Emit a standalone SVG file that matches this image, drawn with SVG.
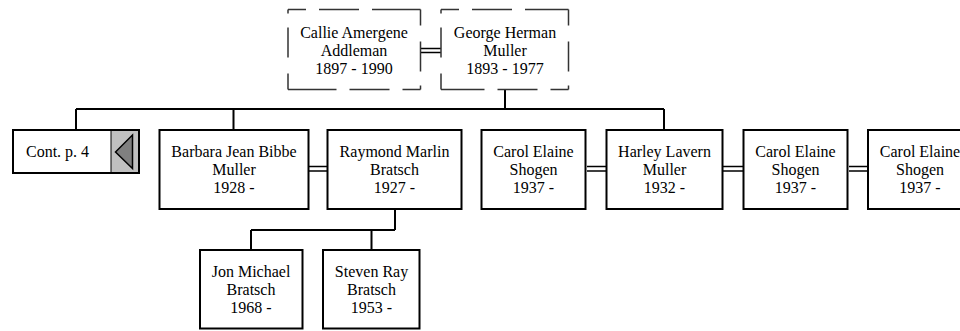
<svg xmlns="http://www.w3.org/2000/svg" width="960" height="331" viewBox="0 0 960 331">
<style>
text{font-family:"Liberation Serif","Times New Roman",serif;font-size:16px;fill:#000;text-anchor:middle}
.box{fill:#fff;stroke:#000;stroke-width:2}
.dh{fill:none;stroke:#333;stroke-width:1.5;stroke-dasharray:18 13 40 13 90}
.dv{fill:none;stroke:#333;stroke-width:1.5;stroke-dasharray:16 16 30 14 90}
.ln{fill:none;stroke:#000;stroke-width:2}
.dbl{fill:none;stroke:#000;stroke-width:1.5}
</style>
<rect width="960" height="331" fill="#fff"/>
<g id="connectors">
<path class="dbl" d="M421 48.5H441M421 52.5H441"/>
<path class="ln" d="M505 89V109M76 109H664M76 109V129M233.5 109V129M664 109V129"/>
<path class="dbl" d="M309 166.5H327M309 171H327"/>
<path class="dbl" d="M587 166.5H606M587 171H606"/>
<path class="dbl" d="M723 166.5H743M723 171H743"/>
<path class="dbl" d="M849 166.5H867M849 171H867"/>
<path class="ln" d="M395 210V230M251 230H395M251 230V249M371.5 230V249"/>
</g>
<g id="callie">
<rect x="288" y="9.5" width="132.5" height="80" fill="#fff"/>
<path class="dh" d="M288 9.5H420.5M420.5 89.5H288"/>
<path class="dv" d="M420.5 9.5V89.5M288 89.5V9.5"/>
<text x="354" y="37.5">Callie Amergene</text>
<text x="354" y="55.5">Addleman</text>
<text x="354" y="73.5">1897 - 1990</text>
</g>
<g id="george">
<rect x="441" y="9.5" width="127.5" height="80" fill="#fff"/>
<path class="dh" d="M441 9.5H568.5M568.5 89.5H441"/>
<path class="dv" d="M568.5 9.5V89.5M441 89.5V9.5"/>
<text x="505" y="37.5">George Herman</text>
<text x="505" y="55.5">Muller</text>
<text x="505" y="73.5">1893 - 1977</text>
</g>
<g id="cont">
<rect class="box" x="13" y="130" width="126" height="43"/>
<rect x="111" y="131" width="27" height="41" fill="#c0c0c0"/>
<path d="M111 130V173" stroke="#000" stroke-width="1"/>
<polygon points="115.5,152 132.5,135 132.5,168.5" fill="#808080" stroke="#000" stroke-width="1.5"/>
<text x="26" y="156.5" style="text-anchor:start">Cont. p. 4</text>
</g>
<g id="barbara">
<rect class="box" x="159.5" y="130" width="149" height="79"/>
<text x="234" y="157">Barbara Jean Bibbe</text>
<text x="234" y="175">Muller</text>
<text x="234" y="193">1928 -</text>
</g>
<g id="raymond">
<rect class="box" x="327.5" y="130" width="134" height="79"/>
<text x="394.5" y="157">Raymond Marlin</text>
<text x="394.5" y="175">Bratsch</text>
<text x="394.5" y="193">1927 -</text>
</g>
<g id="carol1">
<rect class="box" x="481.5" y="130" width="104" height="79"/>
<text x="533.5" y="157">Carol Elaine</text>
<text x="533.5" y="175">Shogen</text>
<text x="533.5" y="193">1937 -</text>
</g>
<g id="harley">
<rect class="box" x="606.5" y="130" width="116" height="79"/>
<text x="664.5" y="157">Harley Lavern</text>
<text x="664.5" y="175">Muller</text>
<text x="664.5" y="193">1932 -</text>
</g>
<g id="carol2">
<rect class="box" x="743.5" y="130" width="104" height="79"/>
<text x="795.5" y="157">Carol Elaine</text>
<text x="795.5" y="175">Shogen</text>
<text x="795.5" y="193">1937 -</text>
</g>
<g id="carol3">
<rect class="box" x="868" y="130" width="104" height="79"/>
<text x="920" y="157">Carol Elaine</text>
<text x="920" y="175">Shogen</text>
<text x="920" y="193">1937 -</text>
</g>
<g id="jon">
<rect class="box" x="200" y="250" width="102.5" height="78.5"/>
<text x="251" y="277">Jon Michael</text>
<text x="251" y="295">Bratsch</text>
<text x="251" y="313">1968 -</text>
</g>
<g id="steven">
<rect class="box" x="323" y="250" width="96.5" height="78.5"/>
<text x="371.5" y="277">Steven Ray</text>
<text x="371.5" y="295">Bratsch</text>
<text x="371.5" y="313">1953 -</text>
</g>
</svg>
